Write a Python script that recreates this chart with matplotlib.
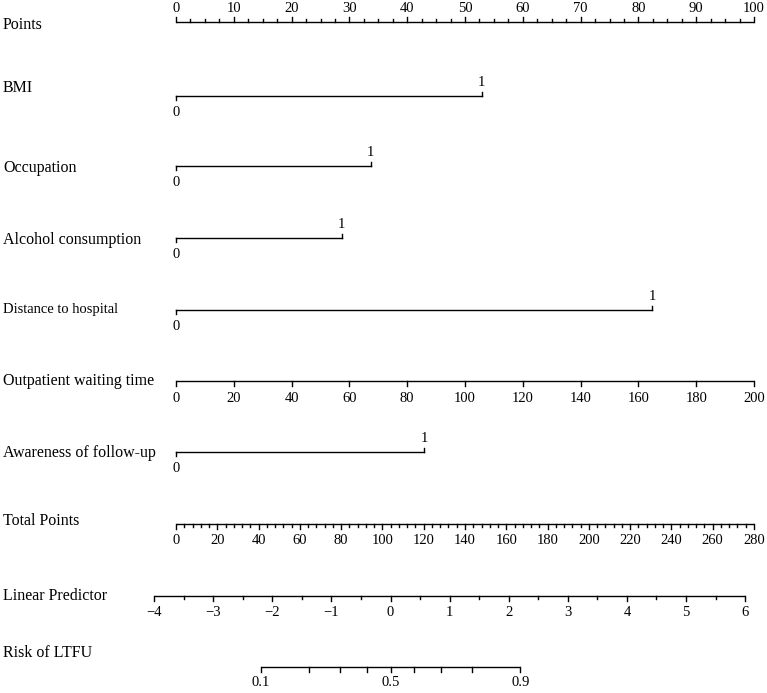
import numpy as np
import matplotlib.pyplot as plt

plt.rcParams['font.family'] = ['Liberation Serif', 'DejaVu Serif']

# data
row_labels = ["Points", "BMI", "Occupation", "Alcohol consumption", "Distance to hospital",
              "Outpatient waiting time", "Awareness of follow-up", "Total Points",
              "Linear Predictor", "Risk of LTFU"]
binary_vars = ["BMI", "Occupation", "Alcohol consumption", "Distance to hospital",
               "Awareness of follow-up"]
binary_points = [52.9, 33.7, 28.7, 82.4, 42.9]   # points given for level 1
wait_max = 200            # outpatient waiting time 0..200 -> 0..100 points
total_max = 280
risk_ticks = [0.1, 0.2, 0.3, 0.4, 0.5, 0.6, 0.7, 0.8, 0.9]
risk_labels = ["0.1", "", "", "", "0.5", "", "", "", "0.9"]

# layout (pixel rows)
row_y = [22, 96, 166, 238, 310, 381, 452, 524, 596, 667]
label_dy = [3, -8, 2, 2, 0, 0, 1, -3, 0, -14]

px0, px_per_pt = 176, 5.78
W, H = 767, 693


def total_to_x(t):
    return np.asarray(t) * 100.0 / total_max


def lp_to_x(lp):
    return (390.5 + 59.1 * np.asarray(lp) - px0) / px_per_pt


fig = plt.figure(figsize=(W / 100, H / 100), dpi=100)
ax = fig.add_axes([0, 0, 1, 1])
ax.set_xlim(-px0 / px_per_pt, (W - px0) / px_per_pt)
ax.set_ylim(H, 0)
ax.axis('off')

lw = 1.0
fs_lab = 11.5
fs_tick = 10.5


def draw_axis(y, xs, labels, major, up, maj_len=5, min_len=3, label_off=16):
    ax.plot([min(xs), max(xs)], [y, y], color='black', lw=lw, solid_capstyle='butt')
    s = -1 if up else 1
    for x, lab, m in zip(xs, labels, major):
        ln = maj_len if m else min_len
        ax.plot([x, x], [y, y + s * ln], color='black', lw=lw)
        if lab:
            ax.text(x, y + s * label_off, lab, ha='center', va='center', fontsize=fs_tick)


# row labels
for lab, y, dy in zip(row_labels, row_y, label_dy):
    fs = 10.5 if lab == "Distance to hospital" else fs_lab
    ax.text(-px0 / px_per_pt + 3 / px_per_pt, y + dy, lab, ha='left', va='center', fontsize=fs)

# Points axis
pts = np.arange(0, 100.01, 2.5)
draw_axis(row_y[0], pts, [str(int(p)) if p % 10 == 0 else "" for p in pts],
          [p % 10 == 0 for p in pts], up=True, label_off=13)

# binary variables
for name, p in zip(binary_vars, binary_points):
    y = row_y[row_labels.index(name)]
    ax.plot([0, p], [y, y], color='black', lw=lw)
    ax.plot([0, 0], [y, y + 4], color='black', lw=lw)
    ax.plot([p, p], [y, y - 4], color='black', lw=lw)
    ax.text(0, y + 17, "0", ha='center', va='center', fontsize=fs_tick)
    ax.text(p, y - 13, "1", ha='center', va='center', fontsize=fs_tick)

# outpatient waiting time
wt = np.arange(0, wait_max + 1, 20)
draw_axis(row_y[5], wt * 100.0 / wait_max, [str(v) for v in wt], [True] * len(wt),
          up=False, label_off=17)

# total points
tp = np.arange(0, total_max + 1, 4)
draw_axis(row_y[7], total_to_x(tp), [str(v) if v % 20 == 0 else "" for v in tp],
          [v % 20 == 0 for v in tp], up=False, label_off=16)

# linear predictor
lp = np.arange(-4, 6.01, 0.5)
draw_axis(row_y[8], lp_to_x(lp),
          [str(int(v)).replace("-", "\u2212") if v % 1 == 0 else "" for v in lp],
          [v % 1 == 0 for v in lp], up=False, label_off=17)

# risk
rk = np.array(risk_ticks)
draw_axis(row_y[9], lp_to_x(np.log(rk / (1 - rk))), risk_labels, [True] * len(rk),
          up=False, label_off=16)

fig.savefig("out.png", dpi=100)
